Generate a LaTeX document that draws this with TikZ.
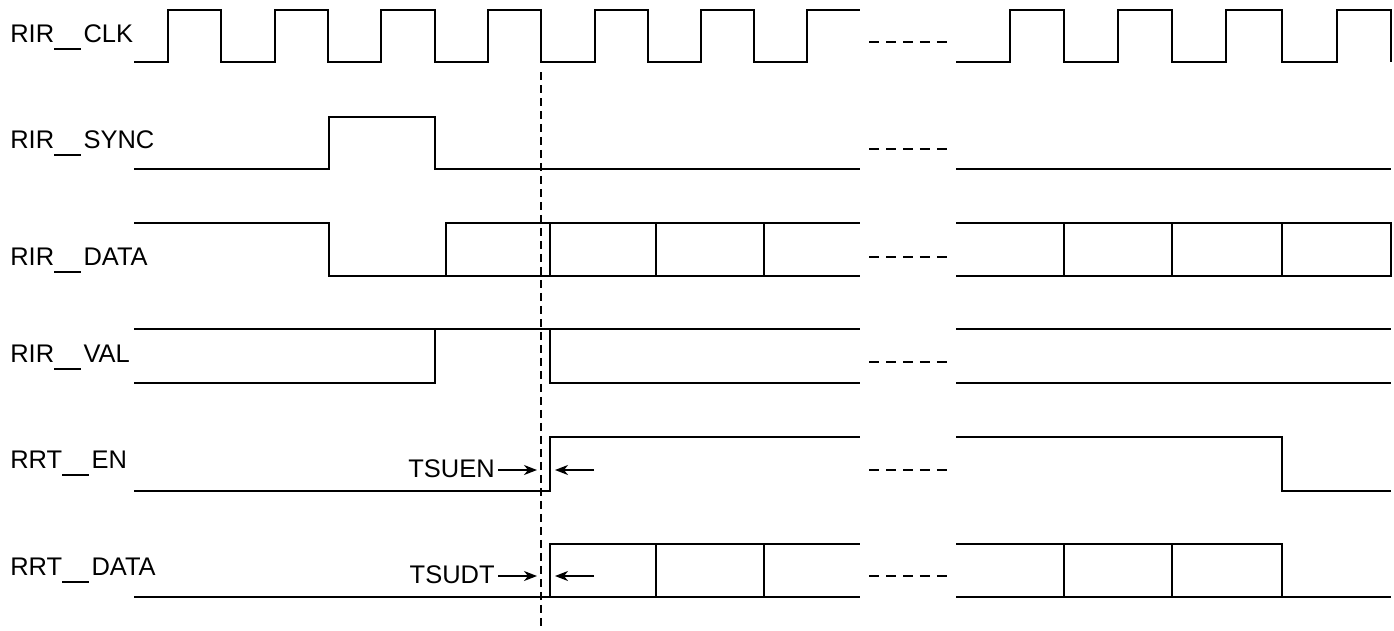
\documentclass[tikz,border=0pt]{standalone}
\usepackage{fontspec}
\setmainfont{Liberation Sans}
\usetikzlibrary{arrows.meta}
\newcommand{\lowbar}{\rule[-0.32em]{1.05em}{0.08em}\hspace{0.1em}}
\tikzset{
  wave/.style={line width=1.3pt, line join=miter},
  gapmark/.style={line width=1.3pt, dash pattern=on 0.2cm off 0.14cm},
  signame/.style={anchor=base west, inner sep=0pt, font=\fontsize{14.5}{17}\selectfont},
  tlabel/.style={anchor=base east, inner ysep=0pt, inner xsep=0.06cm, font=\fontsize{14.5}{17}\selectfont},
  tarrow/.style={-{Stealth[length=0.26cm,width=0.2cm,inset=0.08cm]}, line width=1pt}
}
\begin{document}
\begin{tikzpicture}[x=0.02cm, y=-0.02cm]
	\useasboundingbox (0,0) rectangle (1394,630);

	\node[signame] (clk) at (10,42) {RIR\lowbar CLK};
	\node[signame] (sync) at (10,148) {RIR\lowbar SYNC};
	\node[signame] (rdata) at (10,265) {RIR\lowbar DATA};
	\node[signame] (val) at (10,362) {RIR\lowbar VAL};
	\node[signame] (en) at (10,468) {RRT\lowbar EN};
	\node[signame] (tdata) at (10,575) {RRT\lowbar DATA};

	% clock
	\draw[wave] (134,62) -- (168,62) -- (168,10) -- (221,10) -- (221,62) -- (275,62) -- (275,10) -- (328,10) -- (328,62) -- (381,62) -- (381,10) -- (435,10) -- (435,62) -- (488,62) -- (488,10) -- (541,10) -- (541,62) -- (595,62) -- (595,10) -- (648,10) -- (648,62) -- (701,62) -- (701,10) -- (754,10) -- (754,62) -- (807,62) -- (807,10) -- (860,10);
	\draw[wave] (956,62) -- (1010,62) -- (1010,10) -- (1064,10) -- (1064,62) -- (1118,62) -- (1118,10) -- (1172,10) -- (1172,62) -- (1226,62) -- (1226,10) -- (1282,10) -- (1282,62) -- (1337,62) -- (1337,10) -- (1391,10) -- (1391,62);

	% sync
	\draw[wave] (134,169) -- (329,169) -- (329,117) -- (435,117) -- (435,169) -- (860,169);
	\draw[wave] (956,169) -- (1391,169);

	% rir data
	\draw[wave] (134,223) -- (329,223) -- (329,276) -- (860,276);
	\draw[wave] (446,276) -- (446,223) -- (860,223);
	\draw[wave] (550,223) -- (550,276) (656,223) -- (656,276) (764,223) -- (764,276);
	\draw[wave] (956,223) -- (1391,223) -- (1391,276) -- (956,276);
	\draw[wave] (1064,223) -- (1064,276) (1172,223) -- (1172,276) (1282,223) -- (1282,276);

	% valid
	\draw[wave] (134,329) -- (860,329);
	\draw[wave] (134,383) -- (435,383) -- (435,329);
	\draw[wave] (550,329) -- (550,383) -- (860,383);
	\draw[wave] (956,329) -- (1391,329) (956,383) -- (1391,383);

	% enable
	\draw[wave] (134,491) -- (550,491) -- (550,437) -- (860,437);
	\draw[wave] (956,437) -- (1282,437) -- (1282,491) -- (1391,491);

	% rrt data
	\draw[wave] (134,597) -- (860,597);
	\draw[wave] (550,597) -- (550,544) -- (860,544);
	\draw[wave] (656,544) -- (656,597) (764,544) -- (764,597);
	\draw[wave] (956,597) -- (1391,597);
	\draw[wave] (956,544) -- (1282,544) -- (1282,597);
	\draw[wave] (1064,544) -- (1064,597) (1172,544) -- (1172,597);

	% breaks
	\draw[gapmark] (869,42) -- (947,42);
	\draw[gapmark] (869,149) -- (947,149);
	\draw[gapmark] (869,257) -- (947,257);
	\draw[gapmark] (869,362) -- (947,362);
	\draw[gapmark] (869,470) -- (947,470);
	\draw[gapmark] (869,576) -- (947,576);

	\coordinate (dtop) at (541,72);
	\coordinate (dbot) at (541,630);
	\draw[line width=1.4pt, dash pattern=on 0.16cm off 0.1cm] (dtop) -- (dbot);

	\node[tlabel] (tsuen) at (498,477) {TSUEN};
	\node[tlabel] (tsudt) at (498,583) {TSUDT};
	\coordinate (enend) at (594,470);
	\coordinate (dtend) at (594,576);
	\draw[tarrow] (tsuen.east |- enend) -- (537,470);
	\draw[tarrow] (enend) -- (555,470);
	\draw[tarrow] (tsudt.east |- dtend) -- (537,576);
	\draw[tarrow] (dtend) -- (555,576);

\end{tikzpicture}
\end{document}
